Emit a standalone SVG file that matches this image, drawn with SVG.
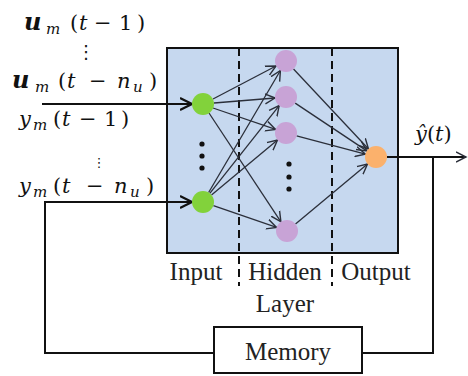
<svg xmlns="http://www.w3.org/2000/svg" width="468" height="376" viewBox="0 0 468 376">
<style>
.lbl{font-size:25px;fill:#222}
.m{font-size:21px;fill:#111;font-style:italic}
.r{font-style:normal}
.b{font-weight:bold}
.sub{font-size:15px}
.e{stroke:#2b2f3a;stroke-width:1.3;fill:none;marker-end:url(#ah)}
.w{stroke:#111;stroke-width:2;fill:none}
.dash{stroke:#111;stroke-width:2;stroke-dasharray:8 5}
</style>
<defs>
<marker id="ah" markerUnits="userSpaceOnUse" markerWidth="12" markerHeight="12" refX="10" refY="5" orient="auto" viewBox="0 0 12 10">
<path d="M0,0 L10,5 L0,10" fill="none" stroke="#2b2f3a" stroke-width="1.4"/>
</marker>
<marker id="ahb" markerUnits="userSpaceOnUse" markerWidth="14" markerHeight="14" refX="12" refY="6" orient="auto" viewBox="0 0 14 12">
<path d="M0,0 L12,6 L0,12" fill="none" stroke="#111" stroke-width="2.2"/>
</marker>
</defs>
<rect width="468" height="376" fill="#fff"/>
<g id="network">
<rect x="167" y="48" width="231" height="205" fill="#c6d8ef" stroke="#111" stroke-width="2"/>
<line class="dash" x1="239" y1="48" x2="239" y2="286"/>
<line class="dash" x1="332" y1="48" x2="332" y2="286"/>
</g>
<g id="connectors">
<line class="e" x1="213" y1="99" x2="276" y2="66"/>
<line class="e" x1="214" y1="103" x2="275" y2="98"/>
<line class="e" x1="213" y1="108" x2="275.6" y2="129.4"/>
<line class="e" x1="209" y1="113" x2="280.9" y2="221.8"/>
<line class="e" x1="208.6" y1="192.5" x2="280.4" y2="70.5"/>
<line class="e" x1="209.8" y1="193.4" x2="279.2" y2="105.6"/>
<line class="e" x1="211.5" y1="195" x2="277.5" y2="140"/>
<line class="e" x1="213.4" y1="205.6" x2="276.6" y2="227.4"/>
<line class="e" x1="293.5" y1="69" x2="368.5" y2="149"/>
<line class="e" x1="295.2" y1="103.1" x2="366.8" y2="150.9"/>
<line class="e" x1="296.6" y1="135.8" x2="365.4" y2="154.2"/>
<line class="e" x1="295.5" y1="224" x2="367.5" y2="164"/>
<line class="w" x1="42" y1="104" x2="192" y2="104" marker-end="url(#ahb)"/>
<polyline class="w" points="214,353 45,353 45,202 192,202" marker-end="url(#ahb)"/>
<line class="w" x1="387" y1="157" x2="466" y2="157" marker-end="url(#ah)"/>
<polyline class="w" points="433,157 433,353 362,353"/>
</g>
<g id="input">
<circle cx="203" cy="104" r="11" fill="#82d23b"/>
<circle cx="203" cy="202" r="11" fill="#82d23b"/>
<circle cx="202" cy="144" r="2.6" fill="#111"/>
<circle cx="202" cy="156" r="2.6" fill="#111"/>
<circle cx="202" cy="168" r="2.6" fill="#111"/>
</g>
<g id="hidden">
<circle cx="286" cy="61" r="11" fill="#c8a3d6"/>
<circle cx="286" cy="97" r="11" fill="#c8a3d6"/>
<circle cx="286" cy="133" r="11" fill="#c8a3d6"/>
<circle cx="287" cy="231" r="11" fill="#c8a3d6"/>
<circle cx="289" cy="164" r="2.6" fill="#111"/>
<circle cx="289" cy="177" r="2.6" fill="#111"/>
<circle cx="289" cy="189" r="2.6" fill="#111"/>
</g>
<g id="output">
<circle cx="376" cy="157" r="11" fill="#fbb16c"/>
</g>
<g id="memory">
<rect x="214" y="327" width="148" height="46" fill="#fff" stroke="#111" stroke-width="2"/>
<text class="lbl" font-family="Liberation Serif, serif" x="288" y="360" text-anchor="middle">Memory</text>
</g>
<g id="labels" font-family="Liberation Serif, serif">
<text class="lbl" x="196" y="280" text-anchor="middle">Input</text>
<text class="lbl" x="285" y="280" text-anchor="middle">Hidden</text>
<text class="lbl" x="285" y="312" text-anchor="middle">Layer</text>
<text class="lbl" x="376" y="280" text-anchor="middle">Output</text>
</g>
<g id="signals" font-family="DejaVu Serif, serif">
<text class="m"><tspan class="b" x="24" y="30" font-size="24">u</tspan><tspan class="sub" x="46" y="34">m</tspan><tspan class="r" x="70" y="30">(</tspan><tspan x="79" y="30">t</tspan><tspan class="r" x="94" y="30">−</tspan><tspan class="r" x="119" y="30">1</tspan><tspan class="r" x="137" y="30">)</tspan></text>
<text font-family="DejaVu Sans, sans-serif" fill="#111" x="86" y="58" font-size="18" text-anchor="middle">⋮</text>
<text class="m"><tspan class="b" x="12" y="88" font-size="24">u</tspan><tspan class="sub" x="35" y="92">m</tspan><tspan class="r" x="58" y="88">(</tspan><tspan x="67" y="88">t</tspan><tspan class="r" x="89" y="88">−</tspan><tspan x="117" y="88">n</tspan><tspan class="sub" x="133" y="92">u</tspan><tspan class="r" x="149" y="88">)</tspan></text>
<text class="m"><tspan x="19" y="126">y</tspan><tspan class="sub" x="33" y="130">m</tspan><tspan class="r" x="53" y="126">(</tspan><tspan x="62" y="126">t</tspan><tspan class="r" x="79" y="126">−</tspan><tspan class="r" x="104" y="126">1</tspan><tspan class="r" x="121" y="126">)</tspan></text>
<text font-family="DejaVu Sans, sans-serif" fill="#111" x="99" y="167" font-size="13" text-anchor="middle">⋮</text>
<text class="m"><tspan x="19" y="193">y</tspan><tspan class="sub" x="33" y="197">m</tspan><tspan class="r" x="53" y="193">(</tspan><tspan x="62" y="193">t</tspan><tspan class="r" x="86" y="193">−</tspan><tspan x="114" y="193">n</tspan><tspan class="sub" x="130" y="197">u</tspan><tspan class="r" x="146" y="193">)</tspan></text>
<text class="m" x="415" y="141" font-size="22">ŷ<tspan class="r">(</tspan>t<tspan class="r">)</tspan></text>
</g>
</svg>
